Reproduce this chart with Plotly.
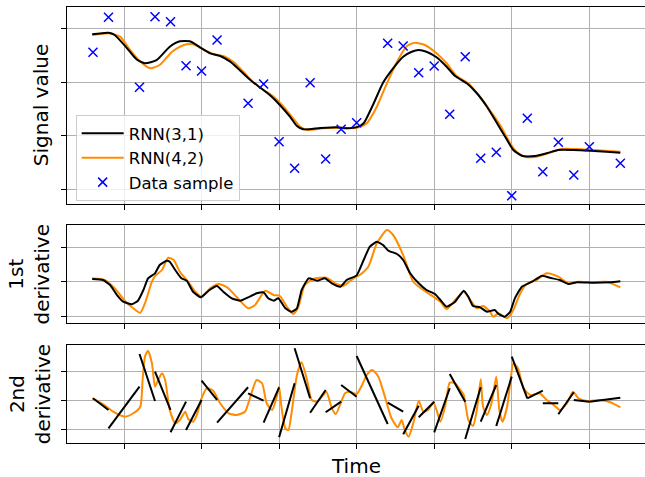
import plotly.graph_objects as go

# ---------------- data ----------------
sample_t = [-0.4, -0.2, 0.2, 0.4, 0.6, 0.8, 1.0, 1.2, 1.6, 1.8, 2.0, 2.2, 2.4, 2.6, 2.8, 3.0,
            3.4, 3.6, 3.8, 4.0, 4.2, 4.4, 4.6, 4.8, 5.0, 5.2, 5.4, 5.6, 5.8, 6.0, 6.4]
sample_y = [1.554, 2.206, 0.902, 2.217, 2.124, 1.304, 1.206, 1.783, 0.604, 0.963, -0.112, -0.607,
            0.988, -0.434, 0.119, 0.242, 1.722, 1.671, 1.174, 1.299, 0.399, 1.472, -0.421, -0.309,
            -1.118, 0.324, -0.671, -0.123, -0.732, -0.205, -0.514]

rnn31_t = [-0.41, -0.20, -0.12, 0.04, 0.16, 0.27, 0.42, 0.59, 0.72, 0.85, 0.98, 1.11, 1.24, 1.37,
           1.50, 1.63, 1.75, 1.88, 2.01, 2.14, 2.23, 2.31, 2.53, 2.74, 2.87, 3.02, 3.09, 3.22, 3.34,
           3.47, 3.60, 3.71, 3.80, 3.90, 4.03, 4.16, 4.27, 4.42, 4.55, 4.68, 4.81, 4.94, 5.02, 5.13,
           5.30, 5.45, 5.60, 5.79, 6.01, 6.22, 6.40]
rnn31_y = [1.889, 1.919, 1.876, 1.628, 1.424, 1.349, 1.410, 1.658, 1.759, 1.759, 1.647, 1.535,
           1.485, 1.379, 1.211, 1.038, 0.902, 0.758, 0.572, 0.354, 0.181, 0.119, 0.143, 0.157,
           0.138, 0.168, 0.231, 0.604, 0.988, 1.256, 1.472, 1.565, 1.597, 1.565, 1.461, 1.286,
           1.112, 0.976, 0.790, 0.540, 0.231, -0.080, -0.266, -0.373, -0.378, -0.328, -0.266,
           -0.266, -0.279, -0.298, -0.317]

rnn42_t = [-0.41, -0.18, -0.05, 0.08, 0.21, 0.34, 0.46, 0.62, 0.77, 0.89, 1.02, 1.15, 1.28, 1.41,
           1.54, 1.67, 1.80, 1.93, 2.05, 2.18, 2.27, 2.36, 2.57, 2.79, 2.91, 3.04, 3.13, 3.26, 3.39,
           3.52, 3.65, 3.75, 3.88, 4.03, 4.16, 4.29, 4.44, 4.57, 4.70, 4.85, 4.98, 5.06, 5.17, 5.32,
           5.49, 5.64, 5.84, 6.05, 6.40]
rnn42_y = [1.876, 1.908, 1.845, 1.597, 1.379, 1.256, 1.317, 1.565, 1.690, 1.703, 1.610, 1.522,
           1.485, 1.379, 1.192, 0.988, 0.852, 0.727, 0.553, 0.324, 0.168, 0.106, 0.138, 0.149,
           0.138, 0.162, 0.231, 0.540, 0.976, 1.379, 1.671, 1.733, 1.690, 1.535, 1.349, 1.112,
           0.976, 0.758, 0.511, 0.199, -0.142, -0.298, -0.391, -0.391, -0.317, -0.248, -0.248,
           -0.266, -0.298]

d1_31_t = [-0.41, -0.27, -0.18, -0.09, -0.01, 0.10, 0.18, 0.25, 0.31, 0.40, 0.46, 0.55, 0.59, 0.66,
           0.74, 0.81, 0.89, 0.99, 1.09, 1.20, 1.28, 1.39, 1.50, 1.60, 1.71, 1.80, 1.86, 1.93, 1.99,
           2.08, 2.16, 2.23, 2.29, 2.38, 2.49, 2.59, 2.68, 2.79, 2.87, 3.00, 3.09, 3.17, 3.26, 3.34,
           3.41, 3.52, 3.60, 3.69, 3.80, 3.90, 4.01, 4.08, 4.16, 4.27, 4.38, 4.44, 4.50, 4.59, 4.68,
           4.78, 4.83, 4.91, 4.98, 5.04, 5.13, 5.26, 5.39, 5.49, 5.62, 5.73, 5.84, 6.05, 6.27, 6.40]
d1_31_y = [0.079, 0.049, -0.096, -0.387, -0.582, -0.658, -0.553, -0.242, 0.099, 0.245, 0.486,
           0.611, 0.582, 0.341, 0.099, 0.029, -0.291, -0.454, -0.262, -0.125, -0.291, -0.483,
           -0.553, -0.454, -0.338, -0.309, -0.483, -0.553, -0.483, -0.774, -0.873, -0.774, -0.242,
           0.099, 0.029, 0.099, -0.047, -0.146, 0.049, 0.186, 0.632, 1.019, 1.164, 1.068, 0.902,
           0.806, 0.632, 0.245, -0.047, -0.242, -0.358, -0.533, -0.728, -0.582, -0.262, -0.437,
           -0.707, -0.745, -0.873, -0.824, -0.940, -1.019, -0.873, -0.483, -0.146, 0.0, 0.175,
           0.116, 0.049, -0.067, -0.017, -0.029, -0.017, 0.012]

d1_42_t = [-0.41, -0.25, -0.12, 0.01, 0.12, 0.21, 0.27, 0.36, 0.40, 0.49, 0.57, 0.64, 0.72, 0.81,
           0.92, 1.00, 1.11, 1.22, 1.33, 1.45, 1.60, 1.69, 1.82, 1.93, 2.01, 2.10, 2.18, 2.25, 2.33,
           2.44, 2.61, 2.74, 2.83, 2.96, 3.04, 3.15, 3.26, 3.39, 3.47, 3.60, 3.73, 3.86, 3.99, 4.08,
           4.16, 4.27, 4.38, 4.46, 4.55, 4.63, 4.72, 4.76, 4.83, 4.94, 5.02, 5.11, 5.19, 5.32, 5.45,
           5.60, 5.73, 5.86, 6.05, 6.22, 6.40]
d1_42_y = [0.099, 0.049, -0.192, -0.553, -0.774, -0.902, -0.629, 0.0, 0.166, 0.341, 0.699, 0.632,
           0.291, 0.049, -0.291, -0.437, -0.192, -0.067, -0.163, -0.437, -0.774, -0.678, -0.262,
           -0.387, -0.416, -0.728, -0.940, -0.728, -0.096, 0.079, 0.116, -0.067, -0.116, 0.099,
           0.195, 0.437, 1.118, 1.505, 1.360, 0.777, 0.0, -0.242, -0.437, -0.582, -0.795, -0.533,
           -0.291, -0.512, -0.774, -0.707, -0.873, -1.019, -0.920, -1.066, -0.824, -0.338, -0.067,
           0.049, 0.245, 0.146, -0.047, 0.0, -0.017, 0.0, -0.163]

# 2nd derivative of RNN(3,1): one straight piece between consecutive samples
d2_31_start = [0.083, -0.952, 1.610, 1.000, -1.090, -1.010, 0.690, -0.759, 0.255, -0.759,
               -1.262, 1.807, -0.414, -0.400, 0.541, 1.541, -0.069, -1.159, -0.572, -1.090,
               0.921, -1.321, -0.724, -0.872, 1.517, 0.083, -0.090, -0.469, 0.024, -0.034]
d2_31_end = [-0.321, 0.483, -0.010, -0.321, -0.034, 0.024, 0.024, 0.462, 0.000, 0.462,
             0.600, 0.083, 0.369, -0.034, 0.138, -0.803, -0.379, -0.172, -0.034, 0.428,
             -0.034, 0.462, 0.541, 0.828, 0.083, 0.345, -0.090, 0.290, -0.034, 0.103]

d2_42_t = [-0.41, -0.27, -0.14, 0.01, 0.12, 0.21, 0.24, 0.27, 0.31, 0.36, 0.40, 0.44, 0.49, 0.53,
           0.59, 0.66, 0.72, 0.79, 0.83, 0.89, 0.94, 1.00, 1.07, 1.15, 1.24, 1.35, 1.45, 1.56, 1.63,
           1.71, 1.78, 1.84, 1.91, 1.97, 2.00, 2.03, 2.08, 2.12, 2.16, 2.23, 2.29, 2.36, 2.42, 2.49,
           2.57, 2.61, 2.68, 2.73, 2.81, 2.85, 2.91, 3.00, 3.07, 3.13, 3.20, 3.28, 3.37, 3.45, 3.53,
           3.58, 3.62, 3.67, 3.73, 3.80, 3.86, 3.92, 3.99, 4.03, 4.08, 4.14, 4.20, 4.27, 4.33, 4.38,
           4.44, 4.50, 4.55, 4.60, 4.63, 4.68, 4.74, 4.80, 4.84, 4.88, 4.94, 4.99, 5.02, 5.08, 5.15,
           5.24, 5.36, 5.45, 5.54, 5.62, 5.71, 5.79, 5.86, 5.97, 6.14, 6.27, 6.40]
d2_42_y = [0.083, -0.114, -0.379, -0.552, -0.434, -0.207, 0.714, 1.517, 1.724, 1.290, 0.483, 0.714,
           0.945, 0.714, -0.321, -0.779, -0.666, -0.379, -0.641, -0.724, -0.493, 0.083, 0.428,
           0.345, -0.090, -0.434, -0.493, -0.379, 0.138, 0.714, 0.600, -0.090, -0.321, 0.138,
           0.483, -0.207, -0.952, -1.010, -0.434, 0.886, 1.324, 0.714, 0.024, -0.034, 0.197, 0.310,
           -0.262, -0.459, 0.024, 0.255, 0.310, 0.231, 0.541, 0.886, 1.059, 0.828, 0.083, -0.607,
           -0.917, -0.666, -1.010, -1.241, -0.779, -0.010, -0.379, -0.321, -0.069, -0.321, -0.724,
           -0.207, 0.621, 0.600, 0.393, 0.197, -0.666, -0.872, -0.321, 0.738, -0.207, -0.493,
           -0.069, 0.828, -0.321, -0.724, -0.207, 0.828, 1.290, 1.117, 0.428, 0.197, 0.255, 0.024,
           -0.148, -0.321, -0.090, 0.310, 0.083, -0.010, 0.024, -0.055, -0.228]

x_ticks = [0, 1, 2, 3, 4, 5, 6]
y_ticks_top = [-1, 0, 1, 2]
y_ticks_d = [-1, 0, 1]

# ---------------- figure ----------------
BLACK = "#000000"
ORANGE = "#ff8c00"
BLUE = "#0000ff"

# piecewise 2nd derivative segments (gaps between pieces)
seg_x, seg_y = [], []
for i in range(len(d2_31_start)):
    seg_x += [sample_t[i], sample_t[i + 1], None]
    seg_y += [d2_31_start[i], d2_31_end[i], None]

fig = go.Figure()

# top panel
fig.add_trace(go.Scatter(x=rnn42_t, y=rnn42_y, mode="lines", name="RNN(4,2)",
                         line=dict(color=ORANGE, width=2, shape="spline", smoothing=0.6),
                         xaxis="x", yaxis="y", legendrank=2))
fig.add_trace(go.Scatter(x=rnn31_t, y=rnn31_y, mode="lines", name="RNN(3,1)",
                         line=dict(color=BLACK, width=2, shape="spline", smoothing=0.6),
                         xaxis="x", yaxis="y", legendrank=1))
fig.add_trace(go.Scatter(x=sample_t, y=sample_y, mode="markers", name="Data sample",
                         marker=dict(symbol="x-thin", size=9, color=BLUE,
                                     line=dict(color=BLUE, width=1.5)),
                         xaxis="x", yaxis="y", legendrank=3))

# middle panel
fig.add_trace(go.Scatter(x=d1_42_t, y=d1_42_y, mode="lines", showlegend=False,
                         line=dict(color=ORANGE, width=2, shape="spline", smoothing=0.6),
                         xaxis="x2", yaxis="y2"))
fig.add_trace(go.Scatter(x=d1_31_t, y=d1_31_y, mode="lines", showlegend=False,
                         line=dict(color=BLACK, width=2, shape="spline", smoothing=0.4),
                         xaxis="x2", yaxis="y2"))

# bottom panel
fig.add_trace(go.Scatter(x=d2_42_t, y=d2_42_y, mode="lines", showlegend=False,
                         line=dict(color=ORANGE, width=2, shape="spline", smoothing=0.6),
                         xaxis="x3", yaxis="y3"))
fig.add_trace(go.Scatter(x=seg_x, y=seg_y, mode="lines", showlegend=False, connectgaps=False,
                         line=dict(color=BLACK, width=2),
                         xaxis="x3", yaxis="y3"))

xr = [-0.735, 6.718]
common_x = dict(range=xr, tickvals=x_ticks, showticklabels=False, ticks="outside", ticklen=5,
                tickwidth=1, tickcolor=BLACK, showgrid=True, gridcolor="#b0b0b0", gridwidth=1,
                zeroline=False, showline=True, linecolor=BLACK, linewidth=1.1, mirror=True)
common_y = dict(showticklabels=False, ticks="outside", ticklen=5, tickwidth=1, tickcolor=BLACK,
                showgrid=True, gridcolor="#b0b0b0", gridwidth=1, zeroline=False, showline=True,
                linecolor=BLACK, linewidth=1.1, mirror=False)

fig.update_layout(
    width=645, height=477,
    margin=dict(l=67, r=0, t=7, b=34),
    paper_bgcolor="white", plot_bgcolor="white",
    font=dict(family="DejaVu Sans", color=BLACK),
    xaxis=dict(domain=[0, 1], anchor="y", **common_x),
    xaxis2=dict(domain=[0, 1], anchor="y2", matches="x", **common_x),
    xaxis3=dict(domain=[0, 1], anchor="y3", matches="x", **common_x),
    yaxis=dict(domain=[0.5482, 1], anchor="x", range=[-1.273, 2.398], tickvals=y_ticks_top, **common_y),
    yaxis2=dict(domain=[0.2752, 0.5], anchor="x2", range=[-1.202, 1.651], tickvals=y_ticks_d, **common_y),
    yaxis3=dict(domain=[0, 0.2255], anchor="x3", range=[-1.459, 1.931], tickvals=y_ticks_d, **common_y),
    legend=dict(x=0.015, y=0.7523, xanchor="left", yanchor="top",
                bgcolor="rgba(255,255,255,0.8)", bordercolor="#cccccc", borderwidth=1,
                font=dict(size=16.5, family="DejaVu Sans", color=BLACK),
                itemwidth=42, tracegroupgap=0),
    showlegend=True,
)

ann = dict(showarrow=False, font=dict(size=20, family="DejaVu Sans", color=BLACK))
fig.add_annotation(text="Signal value", xref="paper", yref="y domain", x=-0.0438, y=0.5,
                   xanchor="center", yanchor="middle", textangle=-90, **ann)
fig.add_annotation(text="1st<br>derivative", xref="paper", yref="y2 domain", x=-0.065, y=0.5,
                   xanchor="center", yanchor="middle", textangle=-90, **ann)
fig.add_annotation(text="2nd<br>derivative", xref="paper", yref="y3 domain", x=-0.065, y=0.5,
                   xanchor="center", yanchor="middle", textangle=-90, **ann)
fig.add_annotation(text="Time", xref="paper", yref="paper", x=0.5005, y=-0.052,
                   xanchor="center", yanchor="middle", borderpad=0, **ann)

fig.write_html("out.html", config={"displayModeBar": False},
               post_script="document.body.style.margin='0px';document.body.style.overflow='hidden';")
